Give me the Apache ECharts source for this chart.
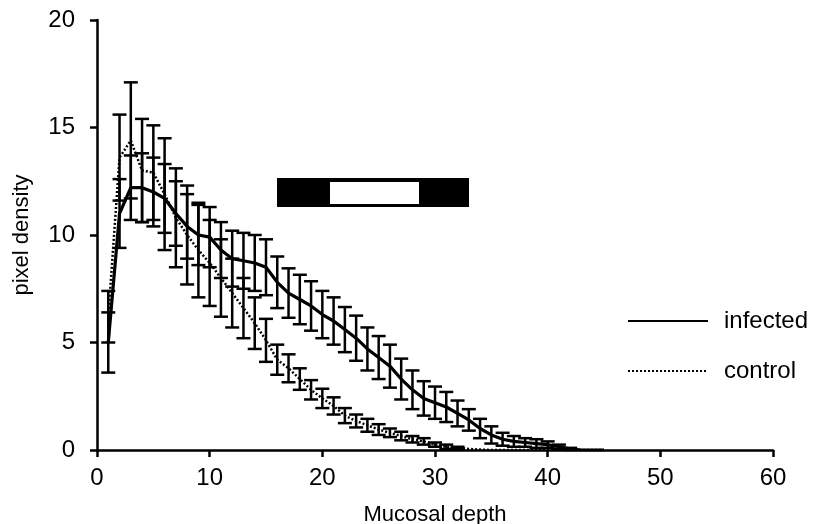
<!DOCTYPE html>
<html>
<head>
<meta charset="utf-8">
<script src="https://cdn.jsdelivr.net/npm/echarts@6/dist/echarts.min.js"></script>
<style>html,body{margin:0;padding:0;background:#fff}#c{width:815px;height:524px}</style>
</head>
<body>
<div id="c"></div>
<script>
var depth = [1,2,3,4,5,6,7,8,9,10,11,12,13,14,15,16,17,18,19,20,21,22,23,24,25,26,27,28,29,30,31,32,33,34,35,36,37,38,39,40,41,42,43,44,45];
var infectedMean = [5.0,11.0,12.2,12.2,12.0,11.7,11.0,10.4,10.0,9.9,9.3,8.9,8.8,8.7,8.5,7.8,7.3,7.0,6.7,6.3,6.0,5.6,5.2,4.7,4.3,3.9,3.3,2.8,2.4,2.2,2.0,1.7,1.4,1.0,0.7,0.5,0.4,0.35,0.3,0.25,0.15,0.05,0,0,0];
var infectedErr = [1.4,1.6,1.5,1.6,1.6,1.6,1.5,1.5,1.4,1.4,1.3,1.3,1.3,1.3,1.3,1.2,1.15,1.15,1.15,1.1,1.1,1.05,1.05,1.0,1.0,1.0,0.95,0.9,0.8,0.75,0.7,0.6,0.5,0.45,0.4,0.3,0.25,0.2,0.2,0.15,0.1,0.05,0,0,0];
var controlMean = [6.2,13.6,14.4,13.0,12.9,11.9,10.8,10.0,9.3,8.7,8.0,7.3,6.6,5.9,5.1,4.2,3.8,3.3,2.8,2.4,2.05,1.6,1.35,1.15,0.95,0.8,0.65,0.5,0.4,0.25,0.15,0.1,0.05,0.02,0,0,0,0,0,0,0,0,0,0,0];
var controlErr = [1.2,2.0,2.7,2.4,2.2,2.6,2.3,2.3,2.2,2.0,1.8,1.6,1.4,1.2,1.0,0.7,0.65,0.5,0.45,0.45,0.4,0.35,0.3,0.3,0.25,0.2,0.2,0.15,0.15,0.1,0.1,0.05,0,0,0,0,0,0,0,0,0,0,0,0,0];
var xTicks = {min:0, max:60, interval:10};
var yTicks = {min:0, max:20, interval:5};

function pairs(xs, ys){ return xs.map(function(x,i){return [x, ys[i]];}); }
function errData(xs, ys, es){ return xs.map(function(x,i){return [x, ys[i], es[i]];}); }

function errRender(params, api){
  var x = api.value(0), m = api.value(1), e = api.value(2);
  if (e <= 0) return null;
  var top = api.coord([x, m + e]);
  var bot = api.coord([x, m - e]);
  var hw = 7;
  var st = {stroke:'#000', lineWidth:2.5, fill:null};
  return {type:'group', children:[
    {type:'line', shape:{x1:top[0], y1:top[1], x2:bot[0], y2:bot[1]}, style:st},
    {type:'line', shape:{x1:top[0]-hw, y1:top[1], x2:top[0]+hw, y2:top[1]}, style:st},
    {type:'line', shape:{x1:bot[0]-hw, y1:bot[1], x2:bot[0]+hw, y2:bot[1]}, style:st}
  ]};
}

var chart = echarts.init(document.getElementById('c'), null, {renderer:'canvas'});
var font = 'Liberation Sans, Arial, sans-serif';
chart.setOption({
  animation:false,
  backgroundColor:'#fff',
  grid:{left:97, right:42, top:20, bottom:74, containLabel:false, outerBoundsMode:'none'},
  legend:{
    orient:'vertical', left:627, top:309, padding:0, itemWidth:80, itemHeight:28, itemGap:26,
    data:['infected','control'],
    itemStyle:{opacity:0},
    textStyle:{fontFamily:font, fontSize:24, color:'#000', padding:[0,0,0,11]}
  },
  xAxis:{
    type:'value', min:xTicks.min, max:xTicks.max, interval:xTicks.interval,
    name:'Mucosal depth', nameLocation:'middle', nameGap:54,
    nameTextStyle:{fontFamily:font, fontSize:22, color:'#000'},
    axisLine:{lineStyle:{color:'#000', width:2.5}},
    axisTick:{show:true, length:7, lineStyle:{color:'#000', width:2.5}},
    axisLabel:{fontFamily:font, fontSize:24, color:'#000', margin:16},
    splitLine:{show:false}
  },
  yAxis:{
    type:'value', min:yTicks.min, max:yTicks.max, interval:yTicks.interval,
    name:'pixel density', nameLocation:'middle', nameGap:64,
    nameTextStyle:{fontFamily:font, fontSize:22, color:'#000'},
    axisLine:{show:true, lineStyle:{color:'#000', width:2.5}},
    axisTick:{show:true, length:7, lineStyle:{color:'#000', width:2.5}},
    axisLabel:{fontFamily:font, fontSize:24, color:'#000', margin:22},
    splitLine:{show:false}
  },
  series:[
    {type:'custom', name:'infectedErr', renderItem:errRender, data:errData(depth, infectedMean, infectedErr), z:3},
    {type:'custom', name:'controlErr', renderItem:errRender, data:errData(depth, controlMean, controlErr), z:3},
    {type:'line', name:'infected', data:pairs(depth, infectedMean), symbol:'none', smooth:false,
      lineStyle:{color:'#000', width:3.2}, itemStyle:{color:'#000'}, z:4},
    {type:'line', name:'control', data:pairs(depth, controlMean), symbol:'none', smooth:false,
      lineStyle:{color:'#000', width:2.5, type:[2,2]}, itemStyle:{color:'#000'}, z:4}
  ],
  graphic:[
    {type:'rect', shape:{x:277, y:178, width:192, height:29}, style:{fill:'#000'}},
    {type:'rect', shape:{x:330, y:182, width:89, height:22}, style:{fill:'#fff'}}
  ]
});
</script>
</body>
</html>
